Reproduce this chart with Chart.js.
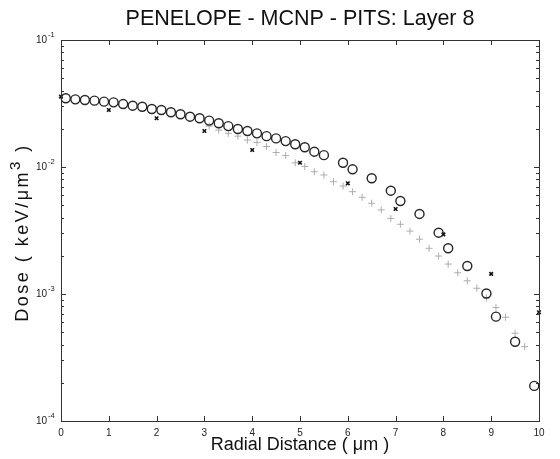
<!DOCTYPE html>
<html>
<head>
<meta charset="utf-8">
<script src="https://cdn.jsdelivr.net/npm/chart.js@4/dist/chart.umd.min.js"></script>
<style>
  body { margin: 0; background: #fff; }
  canvas { display: block; }
</style>
</head>
<body>
<canvas id="doseChart" width="560" height="459"></canvas>
<script>
// PENELOPE (circles), MCNP (+), PITS (x) dose vs radial distance
const penX = [0.1, 0.3, 0.5, 0.7, 0.9, 1.1, 1.3, 1.5, 1.7, 1.9, 2.1, 2.3, 2.5, 2.7, 2.9,
  3.1, 3.3, 3.5, 3.7, 3.9, 4.1, 4.3, 4.5, 4.7, 4.9, 5.1, 5.3, 5.5, 5.9, 6.1, 6.5,
  6.9, 7.1, 7.5, 7.9, 8.1, 8.5, 8.9, 9.1, 9.5, 9.9];
const penDose = [0.0348, 0.0341, 0.0337, 0.0333, 0.0327, 0.0323, 0.0313, 0.0304, 0.0298,
  0.0286, 0.0281, 0.0270, 0.0260, 0.0249, 0.0242, 0.0232, 0.0221, 0.0210, 0.0199, 0.0192,
  0.0184, 0.0175, 0.0168, 0.0160, 0.0151, 0.0143, 0.0132, 0.0124, 0.0108, 0.00959,
  0.00815, 0.00651, 0.00540, 0.00427, 0.00304, 0.00229, 0.00166, 0.00101, 0.000663,
  0.000421, 0.000189];

const mcnpX = [3.1, 3.3, 3.5, 3.7, 3.9, 4.1, 4.3, 4.5, 4.7, 4.9, 5.1, 5.3, 5.5, 5.7, 5.9,
  6.1, 6.3, 6.5, 6.7, 6.9, 7.1, 7.3, 7.5, 7.7, 7.9, 8.1, 8.3, 8.5, 8.7, 8.9, 9.1, 9.3,
  9.5, 9.7];
const mcnpDose = [0.0210, 0.0195, 0.0184, 0.0175, 0.0163, 0.0156, 0.0145, 0.0130, 0.0123,
  0.0108, 0.0101, 0.00918, 0.00865, 0.00766, 0.00708, 0.00639, 0.00577, 0.00518, 0.00459,
  0.00394, 0.00354, 0.00313, 0.00270, 0.00229, 0.00199, 0.00172, 0.00147, 0.00127,
  0.00111, 0.00093, 0.000783, 0.000656, 0.000491, 0.000385];

const pitsX = [0, 1, 2, 3, 4, 5, 6, 7, 8, 9, 10];
const pitsDose = [0.0358, 0.0281, 0.0242, 0.0192, 0.0136, 0.0108, 0.00744, 0.00467,
  0.00295, 0.00144, 0.000718];

const xTicks = [0, 1, 2, 3, 4, 5, 6, 7, 8, 9, 10];
const yDecades = [-4, -3, -2, -1];

const FONT = '"Liberation Sans", Arial, sans-serif';
const toPoints = (xs, ys) => xs.map((x, i) => ({ x: x, y: ys[i] }));

// frame, inward ticks, 10^n labels and the y title (superscript 3)
const framePlugin = {
  id: 'frame',
  afterDraw(chart) {
    const { ctx, chartArea: a, scales: { x, y } } = chart;
    ctx.save();
    ctx.strokeStyle = '#333';
    ctx.lineWidth = 1;
    ctx.strokeRect(a.left + 0.5, a.top + 0.5, a.width, a.height);

    ctx.beginPath();
    xTicks.forEach(v => {
      const px = Math.round(x.getPixelForValue(v)) + 0.5;
      ctx.moveTo(px, a.bottom); ctx.lineTo(px, a.bottom - 5);
      ctx.moveTo(px, a.top); ctx.lineTo(px, a.top + 5);
    });
    yDecades.forEach(d => {
      for (let m = 1; m <= 9; m++) {
        if (d === -1 && m > 1) break;
        const py = Math.round(y.getPixelForValue(m * Math.pow(10, d))) + 0.5;
        const len = m === 1 ? 5 : 3;
        ctx.moveTo(a.left, py); ctx.lineTo(a.left + len, py);
        ctx.moveTo(a.right, py); ctx.lineTo(a.right - len, py);
      }
    });
    ctx.stroke();

    ctx.fillStyle = '#222';
    ctx.textBaseline = 'middle';
    yDecades.forEach(d => {
      const py = y.getPixelForValue(Math.pow(10, d));
      ctx.font = '10px ' + FONT;
      ctx.textAlign = 'right';
      ctx.fillText('10', 47, py);
      ctx.font = '7.5px ' + FONT;
      ctx.textAlign = 'left';
      ctx.fillText(String(d), 48, py - 5);
    });

    // y axis title
    const parts = [['Dose ( keV/μm', 18, 0], ['3', 15, -7], [' )', 18, 0]];
    ctx.fillStyle = '#111';
    ctx.letterSpacing = '2.5px';
    let total = 0;
    parts.forEach(p => { ctx.font = p[1] + 'px ' + FONT; p.push(ctx.measureText(p[0]).width); total += p[3]; });
    ctx.translate(23, (a.top + a.bottom) / 2 + 2);
    ctx.rotate(-Math.PI / 2);
    ctx.textAlign = 'left';
    let cx = -total / 2;
    parts.forEach(p => {
      ctx.font = p[1] + 'px ' + FONT;
      ctx.fillText(p[0], cx, p[2]);
      cx += p[3];
    });
    ctx.restore();
  }
};

const ctx = document.getElementById('doseChart').getContext('2d');
const chart = new Chart(ctx, {
  type: 'scatter',
  data: {
    datasets: [
      {
        label: 'PENELOPE',
        data: toPoints(penX, penDose),
        pointStyle: 'circle',
        pointRadius: 4.5,
        borderColor: '#262626',
        borderWidth: 1.4,
        backgroundColor: 'rgba(255,255,255,0)',
        order: 1
      },
      {
        label: 'MCNP',
        data: toPoints(mcnpX, mcnpDose),
        pointStyle: 'cross',
        pointRadius: 3.5,
        borderColor: '#adadad',
        borderWidth: 1,
        order: 3
      },
      {
        label: 'PITS',
        data: toPoints(pitsX, pitsDose),
        pointStyle: 'crossRot',
        pointRadius: 2.5,
        borderColor: '#111',
        borderWidth: 1.6,
        order: 2
      }
    ]
  },
  options: {
    responsive: false,
    animation: false,
    clip: false,
    layout: { padding: { top: 0, right: 21, bottom: 0, left: 0 } },
    plugins: {
      legend: { display: false },
      tooltip: { enabled: false },
      title: {
        display: true,
        fullSize: false,
        text: 'PENELOPE - MCNP - PITS: Layer 8',
        color: '#111',
        font: { family: FONT, size: 21.5, weight: 'normal' },
        padding: { top: 6, bottom: 8.2 }
      }
    },
    scales: {
      x: {
        type: 'linear',
        min: 0,
        max: 10,
        grid: { display: false, drawTicks: false },
        border: { display: false },
        ticks: {
          stepSize: 1,
          color: '#222',
          padding: 6,
          font: { family: FONT, size: 10 }
        },
        title: {
          display: true,
          text: 'Radial Distance ( μm )',
          color: '#111',
          font: { family: FONT, size: 18 },
          padding: { top: 0, bottom: 3 }
        },
        afterFit(scale) { scale.height = 38; }
      },
      y: {
        type: 'logarithmic',
        min: 1e-4,
        max: 1e-1,
        grid: { display: false, drawTicks: false },
        border: { display: false },
        ticks: { display: false },
        afterFit(scale) { scale.width = 61; }
      }
    }
  },
  plugins: [framePlugin]
});
</script>
</body>
</html>
